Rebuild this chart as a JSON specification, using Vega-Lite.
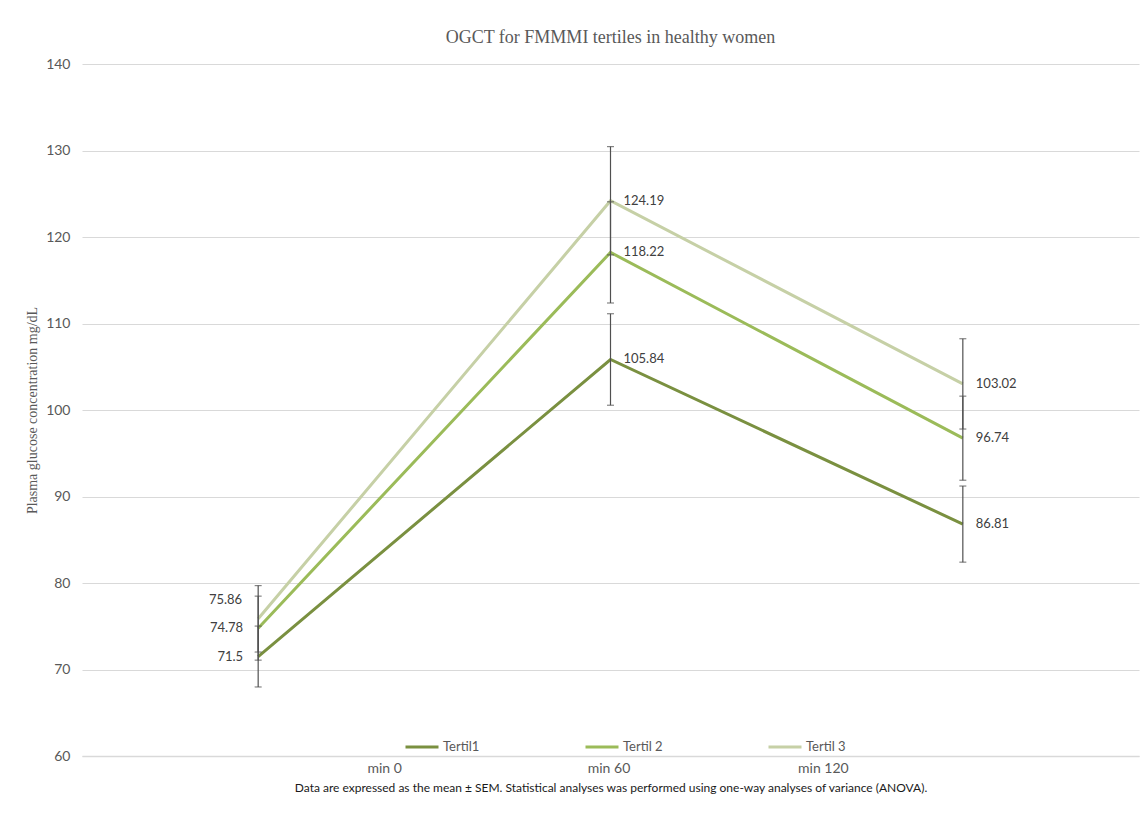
{
  "$schema": "https://vega.github.io/schema/vega-lite/v6.json",
  "autosize": "none",
  "width": 1057,
  "height": 692,
  "padding": {"left": 82, "top": 64, "right": 3, "bottom": 71},
  "background": "white",
  "title": {
    "text": "OGCT for FMMMI tertiles in healthy women",
    "font": "Liberation Serif",
    "fontSize": 18,
    "fontWeight": "normal",
    "color": "#595959",
    "frame": "group",
    "anchor": "middle",
    "offset": 10
  },
  "data": {
    "values": [
      {"time": "min 0", "tertile": "Tertil1", "mean": 71.5, "lo": 67.98, "hi": 75.02},
      {"time": "min 60", "tertile": "Tertil1", "mean": 105.84, "lo": 100.55, "hi": 111.13},
      {"time": "min 120", "tertile": "Tertil1", "mean": 86.81, "lo": 82.41, "hi": 91.21},
      {"time": "min 0", "tertile": "Tertil 2", "mean": 74.78, "lo": 71.08, "hi": 78.48},
      {"time": "min 60", "tertile": "Tertil 2", "mean": 118.22, "lo": 112.37, "hi": 124.07},
      {"time": "min 120", "tertile": "Tertil 2", "mean": 96.74, "lo": 91.88, "hi": 101.6},
      {"time": "min 0", "tertile": "Tertil 3", "mean": 75.86, "lo": 72.02, "hi": 79.7},
      {"time": "min 60", "tertile": "Tertil 3", "mean": 124.19, "lo": 117.93, "hi": 130.45},
      {"time": "min 120", "tertile": "Tertil 3", "mean": 103.02, "lo": 97.8, "hi": 108.24}
    ]
  },
  "encoding": {
    "x": {
      "field": "time",
      "type": "nominal",
      "sort": ["min 0", "min 60", "min 120"],
      "scale": {"type": "point", "padding": 0.5},
      "axis": {
        "title": "Data are expressed as the mean ± SEM. Statistical analyses was performed using one-way analyses of variance (ANOVA).",
        "titleFont": "Lato",
        "titleFontSize": 12,
        "titleFontWeight": "normal",
        "titleColor": "#1a1a1a",
        "titlePadding": 7,
        "labelAngle": 0,
        "labelFont": "Lato",
        "labelFontSize": 14,
        "labelColor": "#595959",
        "labelPadding": 5,
        "labelOffset": {
          "condition": [
            {"test": "datum.value === 'min 0'", "value": 126},
            {"test": "datum.value === 'min 120'", "value": -140}
          ],
          "value": -2
        },
        "domain": true,
        "domainColor": "#d9d9d9",
        "domainWidth": 1.5,
        "ticks": false,
        "grid": false
      }
    }
  },
  "layer": [
    {
      "mark": {"type": "line", "strokeWidth": 3},
      "encoding": {
        "y": {
          "field": "mean",
          "type": "quantitative",
          "scale": {"domain": [60, 140], "nice": false, "zero": false},
          "axis": {
            "title": "Plasma glucose concentration mg/dL",
            "titleFont": "Liberation Serif",
            "titleFontSize": 14,
            "titleFontWeight": "normal",
            "titleColor": "#595959",
            "titlePadding": 6,
            "values": [60, 70, 80, 90, 100, 110, 120, 130, 140],
            "labelFont": "Lato",
            "labelFontSize": 14,
            "labelColor": "#595959",
            "labelPadding": 12,
            "domain": false,
            "ticks": false,
            "grid": true,
            "gridColor": "#d9d9d9",
            "gridWidth": 1.2
          }
        },
        "color": {
          "field": "tertile",
          "type": "nominal",
          "scale": {
            "domain": ["Tertil1", "Tertil 2", "Tertil 3"],
            "range": ["#7a9040", "#9bbb59", "#c6d0a6"]
          },
          "legend": {
            "title": null,
            "orient": "none",
            "legendX": 322,
            "legendY": 665,
            "direction": "horizontal",
            "columns": 3,
            "columnPadding": 99,
            "symbolType": "stroke",
            "symbolSize": 1089,
            "symbolStrokeWidth": 3,
            "labelFont": "Lato",
            "labelFontSize": 13,
            "labelColor": "#595959",
            "labelOffset": 3
          }
        }
      }
    },
    {
      "mark": {"type": "rule", "color": "#505050", "strokeWidth": 1.2},
      "encoding": {
        "y": {"field": "lo", "type": "quantitative"},
        "y2": {"field": "hi"}
      }
    },
    {
      "mark": {"type": "tick", "color": "#505050", "size": 7, "thickness": 1.2},
      "encoding": {"y": {"field": "lo", "type": "quantitative"}}
    },
    {
      "mark": {"type": "tick", "color": "#505050", "size": 7, "thickness": 1.2},
      "encoding": {"y": {"field": "hi", "type": "quantitative"}}
    },
    {
      "transform": [{"filter": "datum.time !== 'min 0'"}],
      "mark": {"type": "text", "align": "left", "baseline": "middle", "dx": 13, "font": "Lato", "fontSize": 13, "color": "#404040"},
      "encoding": {
        "y": {"field": "mean", "type": "quantitative"},
        "text": {"field": "mean", "type": "nominal"}
      }
    },
    {
      "transform": [{"filter": "datum.time === 'min 0' && datum.tertile !== 'Tertil 3'"}],
      "mark": {"type": "text", "align": "right", "baseline": "middle", "dx": -15, "font": "Lato", "fontSize": 13, "color": "#404040"},
      "encoding": {
        "y": {"field": "mean", "type": "quantitative"},
        "text": {"field": "mean", "type": "nominal"}
      }
    },
    {
      "transform": [{"filter": "datum.time === 'min 0' && datum.tertile === 'Tertil 3'"}],
      "mark": {"type": "text", "align": "right", "baseline": "middle", "dx": -16, "dy": -19, "font": "Lato", "fontSize": 13, "color": "#404040"},
      "encoding": {
        "y": {"field": "mean", "type": "quantitative"},
        "text": {"field": "mean", "type": "nominal"}
      }
    }
  ],
  "config": {
    "view": {"stroke": null}
  }
}
